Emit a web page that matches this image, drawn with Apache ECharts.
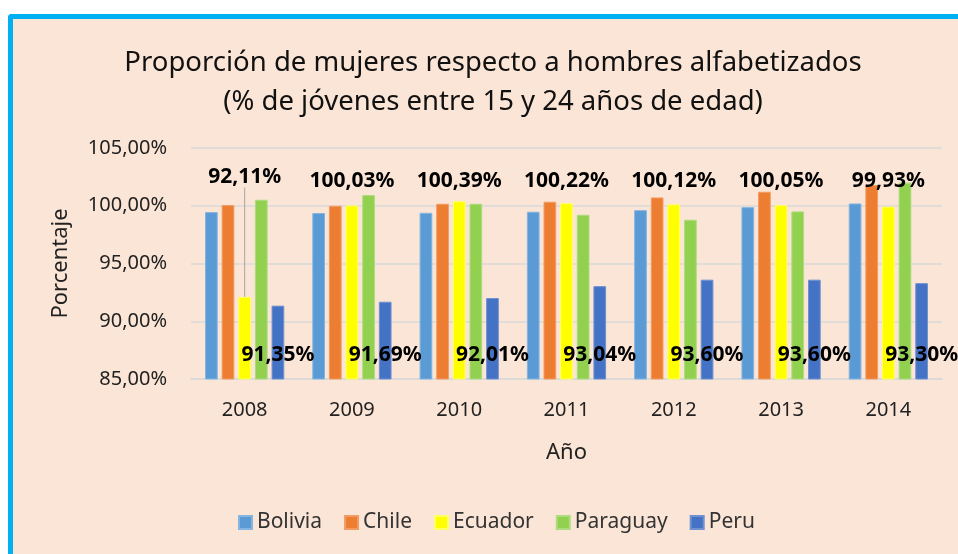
<!DOCTYPE html>
<html>
<head>
<meta charset="utf-8">
<script src="https://cdn.jsdelivr.net/npm/echarts@6/dist/echarts.min.js"></script>
<style>
  html, body { margin: 0; padding: 0; background: #fff; }
  #chart {
    position: absolute; left: 8px; top: 14px;
    width: 945px; height: 535px;
    border-left: 5px solid #00b0f0; border-top: 5px solid #00b0f0;
    border-top-left-radius: 4px;
  }
</style>
</head>
<body>
<div id="chart"></div>
<script>
const years = ["2008", "2009", "2010", "2011", "2012", "2013", "2014"];
const bolivia = [99.45, 99.37, 99.39, 99.48, 99.62, 99.88, 100.2];
const chile = [100.06, 100.0, 100.17, 100.35, 100.72, 101.21, 101.79];
const ecuador = [92.11, 100.03, 100.39, 100.22, 100.12, 100.05, 99.93];
const paraguay = [100.52, 100.92, 100.17, 99.22, 98.79, 99.51, 102.0];
const peru = [91.35, 91.69, 92.01, 93.04, 93.6, 93.6, 93.3];

const font = "Noto Sans";
const gridTop = 129;
const gridBottom = 360;

const fmt = (v) => v.toFixed(2).replace(".", ",") + "%";

const chart = echarts.init(document.getElementById("chart"));

function bar(name, data, color, border) {
  return {
    name: name,
    type: "bar",
    data: data,
    barWidth: 12.7,
    barGap: "31%",
    itemStyle: { color: color, borderColor: border, borderWidth: 1 },
  };
}

const valueLabel = {
  show: true,
  formatter: (p) => fmt(p.value),
  fontFamily: font,
  fontWeight: "bold",
  fontSize: 21,
  color: "#000",
};

// keep labels centred on their bar, only move them up or down
const centreOnBar = (p, y) => ({
  x: p.rect.x + p.rect.width / 2,
  y: y,
  align: "center",
  verticalAlign: "middle",
});

const ecuadorSeries = bar("Ecuador", ecuador.map((v, i) => i == 0
  ? { value: v, labelLine: { show: true, lineStyle: { color: "#a6a6a6", width: 1 } } }
  : v), "#ffff00", "#ffff66");
ecuadorSeries.label = Object.assign({ position: "top" }, valueLabel);
ecuadorSeries.labelLine = { show: false };
ecuadorSeries.labelLayout = (p) => centreOnBar(p, gridTop + (p.dataIndex == 0 ? 29 : 33));

const peruSeries = bar("Peru", peru, "#4472c4", "#6f91d0");
peruSeries.label = Object.assign({ position: "insideBottom" }, valueLabel);
peruSeries.labelLayout = (p) => centreOnBar(p, gridBottom - 24);

chart.setOption({
  backgroundColor: "#fbe5d6",
  animation: false,
  title: {
    text: "Proporción de mujeres respecto a hombres alfabetizados\n(% de jóvenes entre 15 y 24 años de edad)",
    left: 475,
    top: 20,
    textAlign: "center",
    textStyle: {
      fontFamily: font,
      fontWeight: "normal",
      fontSize: 27.5,
      lineHeight: 39,
      color: "#111",
    },
  },
  legend: {
    left: 220,
    top: 488,
    itemWidth: 13,
    itemHeight: 13,
    itemGap: 22,
    icon: "rect",
    textStyle: { fontFamily: font, fontSize: 21, color: "#333" },
  },
  grid: { left: 178, right: 16, top: gridTop, bottom: 535 - gridBottom },
  xAxis: {
    type: "category",
    data: years,
    name: "Año",
    nameLocation: "middle",
    nameGap: 63,
    nameTextStyle: { fontFamily: font, fontSize: 22, color: "#222" },
    axisLine: { lineStyle: { color: "#d9d9d9", width: 1.5 } },
    axisTick: { show: false },
    axisLabel: { fontFamily: font, fontSize: 20, color: "#222", margin: 21 },
  },
  yAxis: {
    type: "value",
    min: 85,
    max: 105,
    interval: 5,
    name: "Porcentaje",
    nameLocation: "middle",
    nameGap: 119,
    nameTextStyle: { fontFamily: font, fontSize: 22, color: "#222" },
    axisLabel: {
      fontFamily: font,
      fontSize: 20,
      color: "#222",
      margin: 24,
      formatter: (v) => fmt(v),
    },
    splitLine: { lineStyle: { color: "#d9d9d9", width: 1.5 } },
  },
  series: [
    bar("Bolivia", bolivia, "#5b9bd5", "#84b4e0"),
    bar("Chile", chile, "#ed7d31", "#f29c62"),
    ecuadorSeries,
    bar("Paraguay", paraguay, "#92d050", "#addc7e"),
    peruSeries,
  ],
});
</script>
</body>
</html>
